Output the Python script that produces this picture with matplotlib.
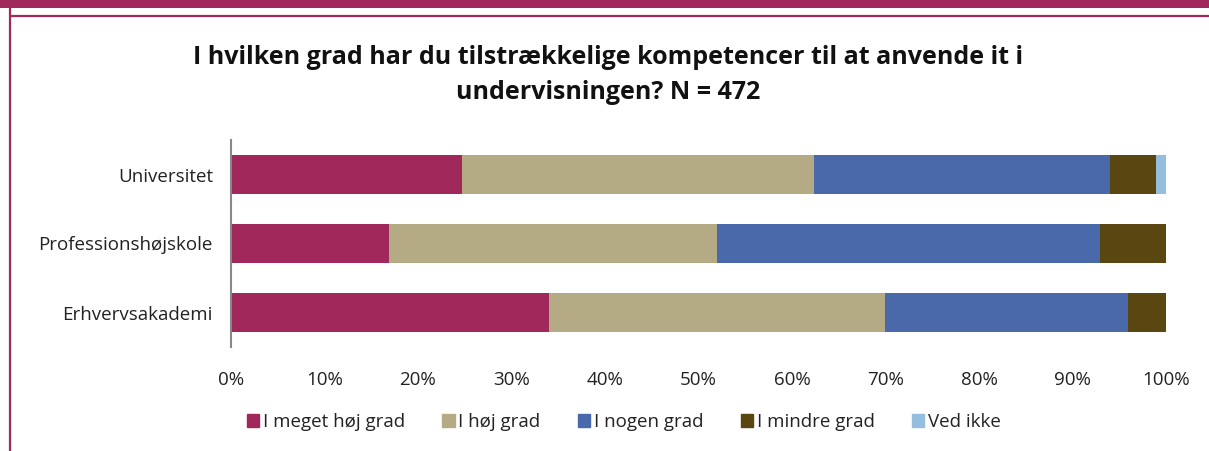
import matplotlib
matplotlib.use("Agg")
import matplotlib.pyplot as plt
from matplotlib.lines import Line2D
from matplotlib.patches import Rectangle

categories = ["Universitet", "Professionshøjskole", "Erhvervsakademi"]
series_names = ["I meget høj grad", "I høj grad", "I nogen grad", "I mindre grad", "Ved ikke"]
meget_hoj = [24.7, 16.9, 34.0]
hoj = [37.7, 35.1, 35.9]
nogen = [31.6, 40.9, 26.0]
mindre = [4.9, 7.1, 4.1]
ved_ikke = [1.1, 0.0, 0.0]
series = [meget_hoj, hoj, nogen, mindre, ved_ikke]
colors = ["#A0285A", "#B4AA84", "#4A69AA", "#5A4610", "#95BDDE"]
xticks = [0, 10, 20, 30, 40, 50, 60, 70, 80, 90, 100]
title = "I hvilken grad har du tilstrækkelige kompetencer til at anvende it i\nundervisningen? N = 472"

plt.rcParams['font.family'] = ['Open Sans', 'DejaVu Sans']

fig = plt.figure(figsize=(12.09, 4.51), dpi=100)
ax = fig.add_axes([231/1209, 1 - 347/451, (1166-231)/1209, (347-140)/451])

ypos = [2, 1, 0]
left = [0.0, 0.0, 0.0]
for vals, c, name in zip(series, colors, series_names):
    ax.barh(ypos, vals, left=left, height=0.56, color=c, label=name, edgecolor='none')
    left = [l + v for l, v in zip(left, vals)]

ax.set_xlim(0, 100)
ax.set_ylim(-0.5, 2.5)
ax.set_yticks(ypos)
ax.set_yticklabels(categories, fontsize=13.5, color='#222222')
ax.set_xticks(xticks)
ax.set_xticklabels([f"{t}%" for t in xticks], fontsize=13.5, color='#222222')
ax.tick_params(axis='both', length=0)
ax.tick_params(axis='y', pad=13)
ax.tick_params(axis='x', pad=17)
for s in ['top', 'right', 'bottom']:
    ax.spines[s].set_visible(False)
ax.spines['left'].set_color('#888888')
ax.spines['left'].set_linewidth(1.5)

fig.text(608/1209, 1 - 75/451, title, ha='center', va='center', fontsize=18,
         fontweight='bold', linespacing=1.5, color='#111111')

handles = [Rectangle((0, 0), 1, 1, color=c) for c in colors]
fig.legend(handles, series_names, loc='center', bbox_to_anchor=(624/1209, 1 - 422/451),
           ncol=5, frameon=False, fontsize=13.5, handlelength=0.65, handleheight=0.65,
           handletextpad=0.2, columnspacing=2.0, labelcolor='#222222')

# decorative frame
frame_color = "#A0285A"
fig.add_artist(Rectangle((0, 1 - 8/451), 1, 8/451, transform=fig.transFigure,
                         color=frame_color, lw=0))
fig.add_artist(Line2D([11/1209, 1], [1 - 15.5/451, 1 - 15.5/451], transform=fig.transFigure,
                      color=frame_color, lw=1.6))
fig.add_artist(Line2D([10/1209, 10/1209], [0, 1 - 8/451], transform=fig.transFigure,
                      color=frame_color, lw=1.6))

fig.savefig("out.png", dpi=100)
